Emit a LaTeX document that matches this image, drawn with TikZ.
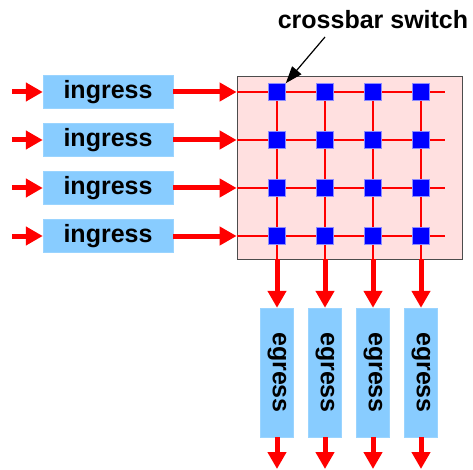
\documentclass[tikz,border=0pt]{standalone}
\usepackage{fontspec}
\setmainfont{Liberation Sans}
\usetikzlibrary{arrows.meta,positioning}
\definecolor{portblue}{RGB}{136,204,255}
\definecolor{swpink}{RGB}{255,224,224}
\tikzset{
    portbox/.style={fill=portblue, draw=portblue!85!white, font=\bfseries\fontsize{25}{25}\selectfont, inner sep=0pt},
    ingressbox/.style={portbox, minimum width=130pt, minimum height=33pt},
    egressbox/.style={portbox, minimum width=33pt, minimum height=129pt},
    crosspt/.style={fill=blue, draw=blue!45!white, line width=0.6pt, minimum size=17pt, inner sep=0pt},
    switchbox/.style={draw=black!70, fill=swpink, line width=0.8pt, minimum width=225pt, minimum height=183pt, inner sep=0pt},
    fatarrow/.style={-{Triangle[length=17pt,width=18pt]}, red, line width=5pt},
    wire/.style={red, line width=2pt},
    notearrow/.style={-{Triangle[length=17pt,width=12pt]}, line width=1.2pt}
}
\begin{document}
\begin{tikzpicture}[x=1pt,y=-1pt]
    \useasboundingbox (0,0) rectangle (473,470);
    \node[switchbox] (switch) at (349.5,167.5) {};
    \node[font=\bfseries\fontsize{25}{25}\selectfont] (swlabel) at (373,20) {crossbar switch};
    \coordinate (lblfoot) at (325,37);

    % ingress side
    \foreach \r in {1,...,4} {
        \node[ingressbox] (in\r) at (108,{44+48*\r}) {ingress};
        \coordinate (src\r) at (12,{44+48*\r});
        \coordinate (wend\r) at (445,{44+48*\r});
        \draw[fatarrow] (src\r) -- (in\r.west);
        \draw[fatarrow] (in\r.east) -- (in\r -| switch.west);
        \draw[wire] (in\r -| switch.west) -- (wend\r);
    }

    % egress side
    \foreach \c in {1,...,4} {
        \coordinate (top\c) at ({229+48*\c},92);
        \node[egressbox] (eg\c) at ({229+48*\c},372.5) {\rotatebox{-90}{egress}};
        \coordinate (sink\c) at ({229+48*\c},469);
        \draw[wire] (top\c) -- (top\c |- switch.south);
        \draw[fatarrow] (top\c |- switch.south) -- (eg\c.north);
        \draw[fatarrow] (eg\c.south) -- (sink\c);
    }

    % crosspoints
    \foreach \r in {1,...,4}
        \foreach \c in {1,...,4}
            \node[crosspt] (x\r\c) at ({229+48*\c},{44+48*\r}) {};

    \draw[notearrow] (lblfoot) -- (x11.north east);
\end{tikzpicture}
\end{document}
